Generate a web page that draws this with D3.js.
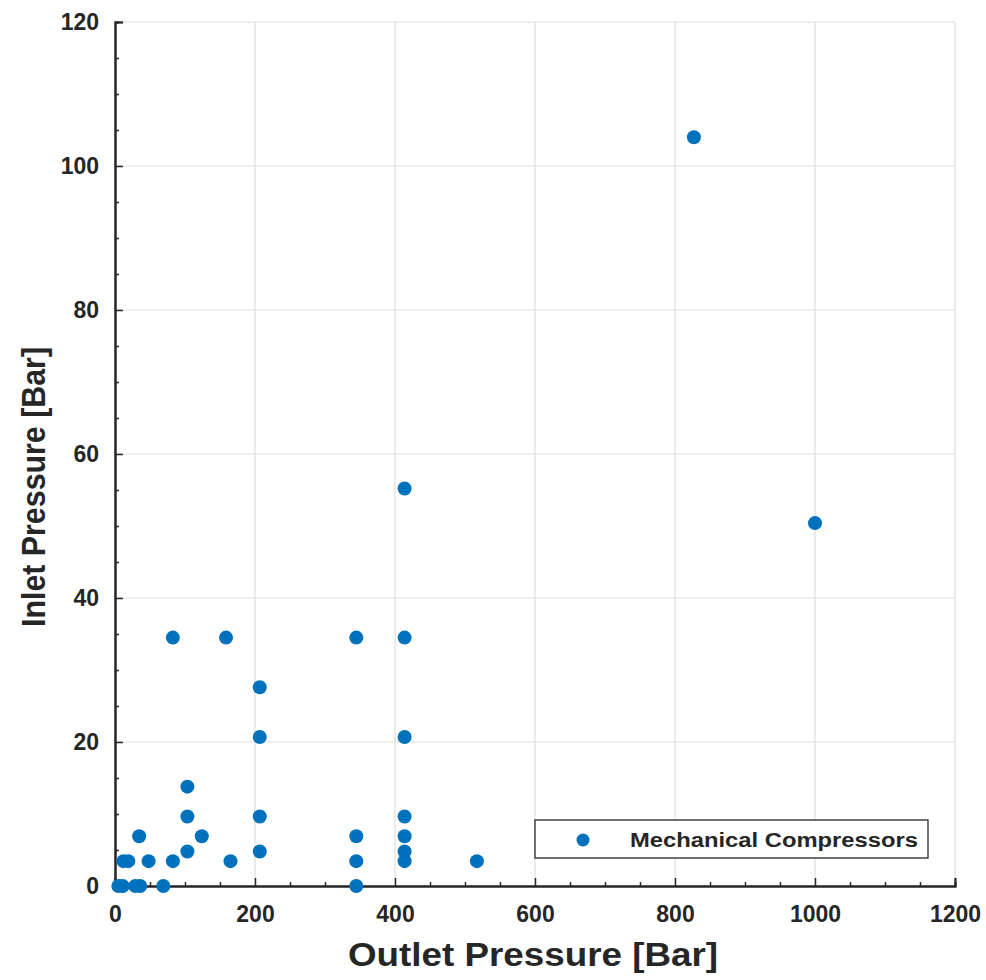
<!DOCTYPE html>
<html><head><meta charset="utf-8">
<script src="https://cdn.jsdelivr.net/npm/d3@7"></script>
<style>body{margin:0;background:#fff}svg{display:block}</style>
</head><body>
<svg id="c" width="986" height="980"></svg>
<script>
const outletPressure = [4.8, 11, 29, 36, 69, 344.7,
  12, 19, 48, 82.7, 165, 344.7, 413.7, 517,
  34.5, 124, 344.7, 413.7,
  103.4, 206.8, 413.7,
  103.4, 206.8, 413.7,
  103.4,
  206.8, 413.7,
  206.8,
  82.7, 158.6, 344.7, 413.7,
  413.7, 1000, 827];
const inletPressure = [0, 0, 0, 0, 0, 0,
  3.45, 3.45, 3.45, 3.45, 3.45, 3.45, 3.45, 3.45,
  6.9, 6.9, 6.9, 6.9,
  4.8, 4.8, 4.8,
  9.65, 9.65, 9.65,
  13.8,
  20.7, 20.7,
  27.6,
  34.5, 34.5, 34.5, 34.5,
  55.2, 50.4, 104];
const xTicks = [0, 200, 400, 600, 800, 1000, 1200];
const yTicks = [0, 20, 40, 60, 80, 100, 120];
const seriesName = "Mechanical Compressors";

const svg = d3.select("#c");
const L = 115, R = 955, T = 22, B = 886;
const x = d3.scaleLinear().domain([0, 1200]).range([L, R]);
const y = d3.scaleLinear().domain([0, 120]).range([B, T]);
const font = "'Liberation Sans', Arial, sans-serif";
const dark = "#262626", grid = "#dedede", blue = "#0072BD";

// grid
const g = svg.append("g");
g.selectAll(".gx").data(xTicks).join("line")
  .attr("x1", d => x(d)).attr("x2", d => x(d)).attr("y1", T).attr("y2", B)
  .attr("stroke", grid).attr("stroke-width", 1.2);
g.selectAll(".gy").data(yTicks).join("line")
  .attr("y1", d => y(d)).attr("y2", d => y(d)).attr("x1", L).attr("x2", R)
  .attr("stroke", grid).attr("stroke-width", 1.2);

// axes (inward ticks)
const xMinor = d3.range(0, 1201, 50).filter(v => v % 200 !== 0);
const yMinor = d3.range(0, 121, 5).filter(v => v % 20 !== 0);
const xAx = svg.append("g").attr("transform", `translate(0,${B})`)
  .call(d3.axisBottom(x).tickValues(xTicks).tickSize(-8).tickPadding(28).tickFormat(d3.format("d")));
const xAxMinor = svg.append("g").attr("transform", `translate(0,${B})`)
  .call(d3.axisBottom(x).tickValues(xMinor).tickSize(-4).tickFormat(""));
const yAx = svg.append("g").attr("transform", `translate(${L},0)`)
  .call(d3.axisLeft(y).tickValues(yTicks).tickSize(-8).tickPadding(16).tickFormat(d3.format("d")));
const yAxMinor = svg.append("g").attr("transform", `translate(${L},0)`)
  .call(d3.axisLeft(y).tickValues(yMinor).tickSize(-4).tickFormat(""));
[xAx, xAxMinor, yAx, yAxMinor].forEach(a => {
  a.select(".domain").attr("stroke", dark).attr("stroke-width", 2);
  a.selectAll(".tick line").attr("stroke", dark).attr("stroke-width", 1.5);
  a.selectAll(".tick text").attr("fill", dark).style("font-family", font)
    .style("font-size", "23px").style("font-weight", "bold");
});
xAx.selectAll(".tick text").attr("dy", "0.35em");

// points
svg.append("g").selectAll("circle").data(outletPressure.map((v, i) => [v, inletPressure[i]]))
  .join("circle").attr("cx", d => x(d[0])).attr("cy", d => y(d[1])).attr("r", 7)
  .attr("fill", blue);

// legend
const lg = svg.append("g");
lg.append("rect").attr("x", 535).attr("y", 820).attr("width", 393).attr("height", 38)
  .attr("fill", "#fff").attr("stroke", dark).attr("stroke-width", 1.3);
lg.append("circle").attr("cx", 583).attr("cy", 840).attr("r", 6.5).attr("fill", blue);
lg.append("text").attr("x", 630).attr("y", 840).attr("dy", "0.35em")
  .attr("textLength", 288).attr("lengthAdjust", "spacingAndGlyphs")
  .style("font-family", font).style("font-size", "20px").style("font-weight", "bold")
  .attr("fill", dark).text(seriesName);

// axis titles
svg.append("text").attr("x", 533).attr("y", 966).attr("text-anchor", "middle")
  .attr("textLength", 370).attr("lengthAdjust", "spacingAndGlyphs")
  .style("font-family", font).style("font-size", "33px").style("font-weight", "bold")
  .attr("fill", dark).text("Outlet Pressure [Bar]");
svg.append("text").attr("transform", `translate(45,487) rotate(-90)`).attr("text-anchor", "middle")
  .attr("textLength", 280).attr("lengthAdjust", "spacingAndGlyphs")
  .style("font-family", font).style("font-size", "33px").style("font-weight", "bold")
  .attr("fill", dark).text("Inlet Pressure [Bar]");
</script>
</body></html>
